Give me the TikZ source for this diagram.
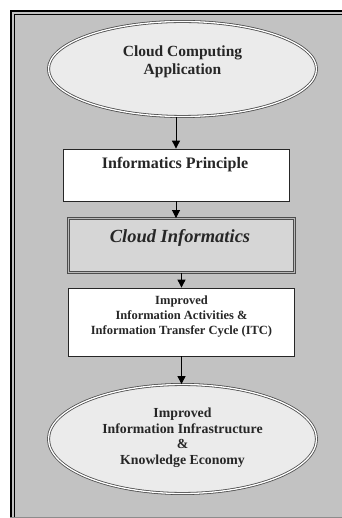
\documentclass[tikz,border=0pt]{standalone}
\usepackage{fontspec}
\setmainfont{Liberation Serif}
\usetikzlibrary{arrows.meta,shapes.geometric,positioning}
\definecolor{panel}{gray}{0.76}
\definecolor{ovalfill}{gray}{0.92}
\definecolor{boxfill}{gray}{0.84}

\begin{document}
\begin{tikzpicture}[x=1pt,y=-1pt]
	\useasboundingbox (0,0) rectangle (341,518);
	\tikzstyle{Oval}=[ellipse,draw=black!70,line width=0.8pt,double=white,double distance=1.3pt,fill=ovalfill]
	\tikzstyle{Box}=[rectangle,draw=black!85,line width=0.8pt,fill=white]
	\tikzstyle{DoubleBox}=[rectangle,draw=black!70,line width=0.9pt,double=gray!55,double distance=1.6pt,fill=boxfill]
	\tikzstyle{Txt}=[align=center,inner sep=0pt,text=black!85]
	\tikzstyle{Arrow}=[line width=0.9pt,-{Triangle[width=8pt,length=8pt]}]
	% panel
	\fill[panel] (10,10) rectangle (345,517);
	\draw[line width=0.5pt,black!45] (10,517.3) -- (345,517.3);
	\draw[line width=2pt] (11,517) -- (11,11) -- (345,11);
	\draw[line width=1pt] (14.2,517) -- (14.2,14.2) -- (345,14.2);
	% shapes
	\node[Oval,minimum width=268pt,minimum height=95pt] (app) at (182.5,69) {};
	\node[Box,minimum width=226pt,minimum height=52pt] (prin) at (176,175) {};
	\node[DoubleBox,minimum width=226pt,minimum height=54pt] (cloud) at (181.5,245.5) {};
	\node[Box,minimum width=226pt,minimum height=68pt] (itc) at (181.5,322) {};
	\node[Oval,minimum width=268pt,minimum height=109pt] (eco) at (182.5,439) {};
	% texts
	\node[Txt,font=\fontsize{15.5}{18}\selectfont\bfseries] (apptxt) at (182.5,62) {Cloud Computing\\Application};
	\node[Txt,font=\fontsize{16}{18}\selectfont\bfseries] (printxt) at (175,165) {Informatics Principle};
	\node[Txt,font=\fontsize{18.5}{21}\selectfont\bfseries\itshape] (cloudtxt) at (180,238) {Cloud Informatics};
	\node[Txt,font=\fontsize{12.5}{15}\selectfont\bfseries] (itctxt) at (181.5,317) {Improved\\Information Activities \&\\Information Transfer Cycle (ITC)};
	\node[Txt,font=\fontsize{13.8}{15.5}\selectfont\bfseries] (ecotxt) at (182.5,437.5) {Improved\\Information Infrastructure\\\&\\Knowledge Economy};
	% arrows
	\draw[Arrow] (prin.north |- app.south) -- (prin.north);
	\draw[Arrow] (prin.south) -- (prin.south |- cloud.north);
	\draw[Arrow] (cloud.south) -- (cloud.south |- itc.north);
	\draw[Arrow] (itc.south) -- (itc.south |- eco.north);
\end{tikzpicture}
\end{document}
